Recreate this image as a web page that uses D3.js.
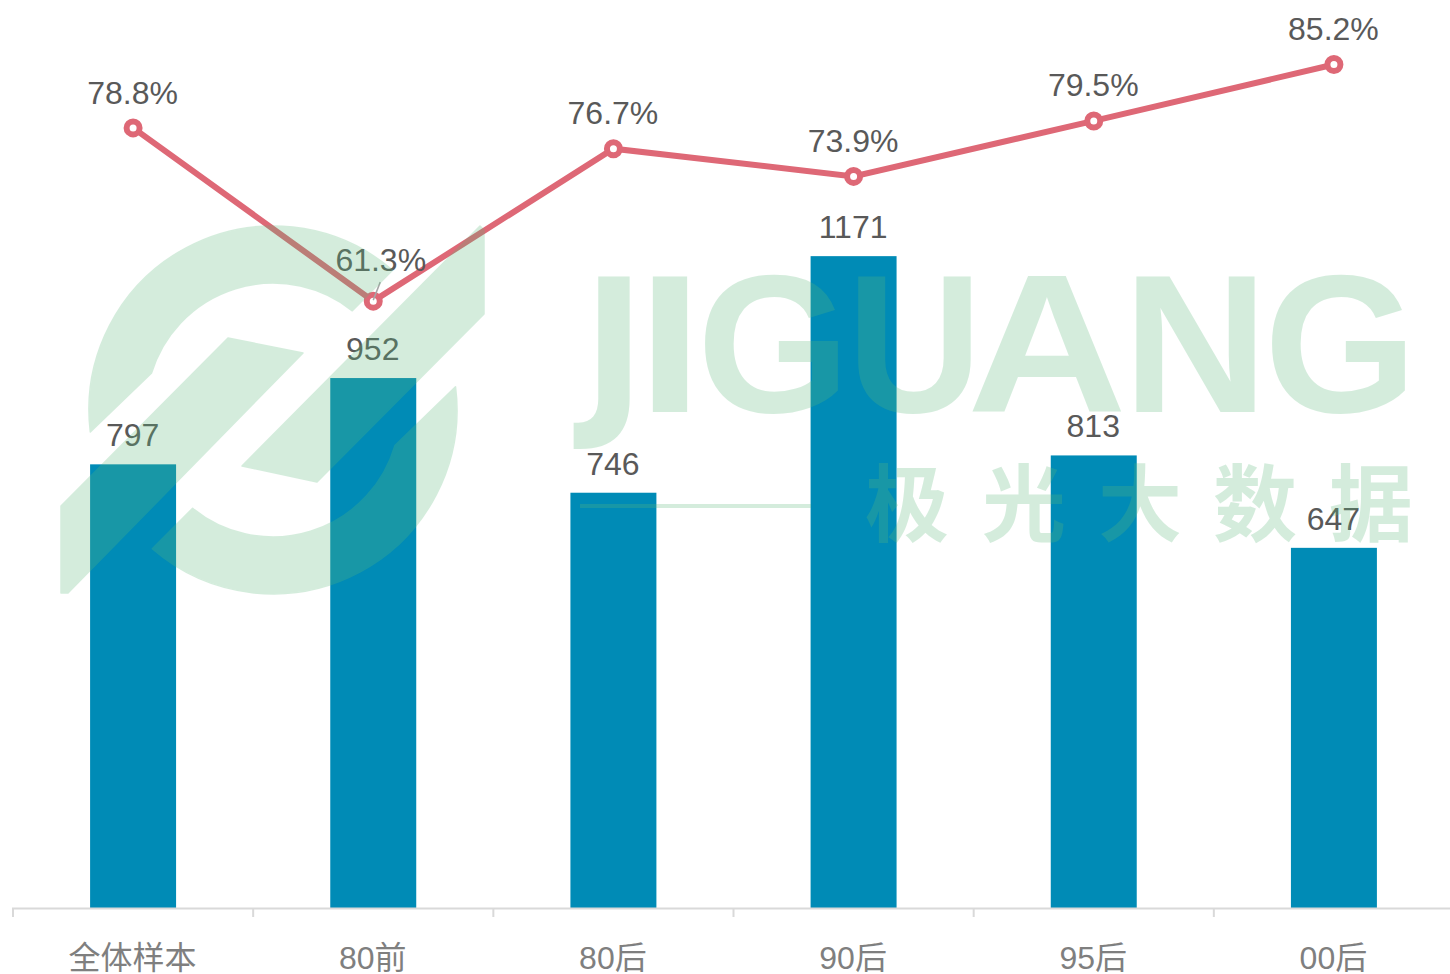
<!DOCTYPE html>
<html>
	<head>
		<meta charset="utf-8">
		<title>chart</title>
		<style>
			html,body{margin:0;padding:0;background:#fff;overflow:hidden;}
			text{font-family:"Liberation Sans","Noto Sans CJK SC",sans-serif;}
		</style>
		<script src="https://cdn.jsdelivr.net/npm/d3@7/dist/d3.min.js" charset="utf-8"></script>
	</head>
	<body>
		<script>
			var categories = ["全体样本","80前","80后","90后","95后","00后"];
			var counts = [797,952,746,1171,813,647];
			var rates = [78.8,61.3,76.7,73.9,79.5,85.2];

			var svgStyle = {width:1450,height:974,left:13,right:1454,bottom:908};

			var svg = d3.select("body")
						.append("svg")
						.attr("width",svgStyle.width)
						.attr("height",svgStyle.height)
						.style("display","block")

			//比例尺
			var xScale = d3.scaleBand()
							.domain(categories)
							.range([svgStyle.left,svgStyle.right])
							.paddingInner(0.642)
							.paddingOuter(0.321)
			var step = xScale.step();
			function cx(d){ return xScale(d)+xScale.bandwidth()/2; }

			var barScale = d3.scaleLinear().domain([0,1200]).range([svgStyle.bottom,240]);
			var rateScale = d3.scaleLinear().domain([0,90]).range([svgStyle.bottom,17]);

			//柱
			svg.selectAll("rect.bar").data(categories).enter().append("rect")
				.attr("class","bar")
				.attr("x",function(d){ return xScale(d); })
				.attr("width",xScale.bandwidth())
				.attr("y",function(d,i){ return barScale(counts[i]); })
				.attr("height",function(d,i){ return svgStyle.bottom-barScale(counts[i]); })
				.attr("fill","#008bb6")

			//坐标轴
			var xAxis = d3.axisBottom(xScale).tickSize(0).tickPadding(38);
			var axisG = svg.append("g")
				.attr("transform","translate(-0.5,"+(svgStyle.bottom+0.5)+")")
				.call(xAxis)
			axisG.select(".domain").remove();
			axisG.selectAll("text")
				.attr("font-size",32)
				.attr("fill","#7f7f7f")
				.attr("font-family",null)

			svg.append("line")
				.attr("x1",svgStyle.left-1).attr("x2",svgStyle.width)
				.attr("y1",svgStyle.bottom+0.5).attr("y2",svgStyle.bottom+0.5)
				.attr("stroke","#d9d9d9").attr("stroke-width",2)

			svg.selectAll("line.tick").data(categories).enter().append("line")
				.attr("class","tick")
				.attr("x1",function(d){ return cx(d)-step/2; })
				.attr("x2",function(d){ return cx(d)-step/2; })
				.attr("y1",svgStyle.bottom)
				.attr("y2",svgStyle.bottom+9)
				.attr("stroke","#d9d9d9").attr("stroke-width",2)

			//折线
			var line = d3.line()
				.x(function(d){ return cx(d); })
				.y(function(d,i){ return rateScale(rates[i]); })

			svg.append("path")
				.datum(categories)
				.attr("d",line)
				.attr("fill","none")
				.attr("stroke","#de6876")
				.attr("stroke-width",6)

			svg.selectAll("circle").data(categories).enter().append("circle")
				.attr("cx",function(d){ return cx(d); })
				.attr("cy",function(d,i){ return rateScale(rates[i]); })
				.attr("r",6.5)
				.attr("fill","#fff")
				.attr("stroke","#de6876")
				.attr("stroke-width",6)

			//61.3% 的引导线
			svg.append("line")
				.attr("x1",cx(categories[1])+7)
				.attr("y1",rateScale(rates[1])-19)
				.attr("x2",cx(categories[1]))
				.attr("y2",rateScale(rates[1])-1)
				.attr("stroke","#a6a6a6").attr("stroke-width",1.5)

			//数据标签
			svg.selectAll("text.count").data(categories).enter().append("text")
				.attr("class","count")
				.attr("x",function(d){ return cx(d)-0.5; })
				.attr("y",function(d,i){ return barScale(counts[i])-18; })
				.attr("text-anchor","middle")
				.attr("font-size",32)
				.attr("fill","#595959")
				.text(function(d,i){ return counts[i]; })

			svg.selectAll("text.rate").data(categories).enter().append("text")
				.attr("class","rate")
				.attr("x",function(d,i){ return cx(d)-0.5+(i==1?8:0); })
				.attr("y",function(d,i){ return rateScale(rates[i])+(i==1?-30:(i==0?-23.5:-24.5)); })
				.attr("text-anchor","middle")
				.attr("font-size",32)
				.attr("fill","#595959")
				.text(function(d,i){ return rates[i].toFixed(1)+"%"; })

			//水印
			var mark = svg.append("g")
				.attr("opacity",0.26)
				.attr("fill","#5cba7c")
				.attr("stroke","#5cba7c")

			//把端点投到圆上，保证圆心不跑
			var ringX = 273, ringY = 410, ringOuter = 184, ringInner = 127;
			function onRing(x,y,r){
				var a = Math.atan2(y-ringY,x-ringX);
				return (ringX+r*Math.cos(a)).toFixed(1)+","+(ringY+r*Math.sin(a)).toFixed(1);
			}
			var outerArc = "A"+ringOuter+","+ringOuter+" 0 ";
			var innerArc = "A"+ringInner+","+ringInner+" 0 ";

			var logoPaths = [
				"M"+onRing(90,432,ringOuter)+" "+outerArc+"0 1 "+onRing(390,273,ringOuter)+
				" L"+onRing(353,310,ringInner)+" "+innerArc+"0 0 "+onRing(152,373,ringInner)+" Z",
				"M"+onRing(453,387,ringOuter)+" "+outerArc+"0 1 "+onRing(153,548,ringOuter)+
				" L"+onRing(192,509,ringInner)+" "+innerArc+"0 0 "+onRing(393,445,ringInner)+" Z",
				"M228,338 L303,353 L68,593 L61,593 L61,506 Z",
				"M480,226 L484,230 L484,314 L317,482 L242,466 Z"
			];
			mark.selectAll("path.logo").data(logoPaths).enter().append("path")
				.attr("class","logo")
				.attr("d",function(d){ return d; })
				.attr("stroke-width",1.5)
				.attr("stroke-linejoin","round")

			var letters = [
				{t:"J",x:583,w:62,size:186,font:"DejaVu Sans"},
				{t:"I",x:637,w:66,size:196},
				{t:"G",x:697,w:153,size:196},
				{t:"U",x:847,w:135,size:196},
				{t:"A",x:967,w:160,size:196},
				{t:"N",x:1123,w:145,size:196},
				{t:"G",x:1264,w:153,size:196}
			];
			mark.selectAll("text.en").data(letters).enter().append("text")
				.attr("class","en")
				.attr("x",function(d){ return d.x; })
				.attr("y",412)
				.attr("font-size",function(d){ return d.size; })
				.attr("font-weight","bold")
				.attr("stroke","none")
				.style("font-family",function(d){ return d.font||"Liberation Sans"; })
				.attr("textLength",function(d){ return d.w; })
				.attr("lengthAdjust","spacingAndGlyphs")
				.text(function(d){ return d.t; })

			var hanzi = [{t:"极",x:865},{t:"光",x:982},{t:"大",x:1098},{t:"数",x:1213},{t:"据",x:1329}];
			mark.selectAll("text.cn").data(hanzi).enter().append("text")
				.attr("class","cn")
				.attr("x",function(d){ return d.x; })
				.attr("y",535)
				.attr("font-size",84)
				.attr("font-weight","bold")
				.attr("stroke","none")
				.style("font-family","'Noto Sans CJK SC'")
				.text(function(d){ return d.t; })

			mark.append("rect")
				.attr("x",580).attr("y",504).attr("width",231).attr("height",4)
				.attr("stroke","none")
		</script>
	</body>
</html>
